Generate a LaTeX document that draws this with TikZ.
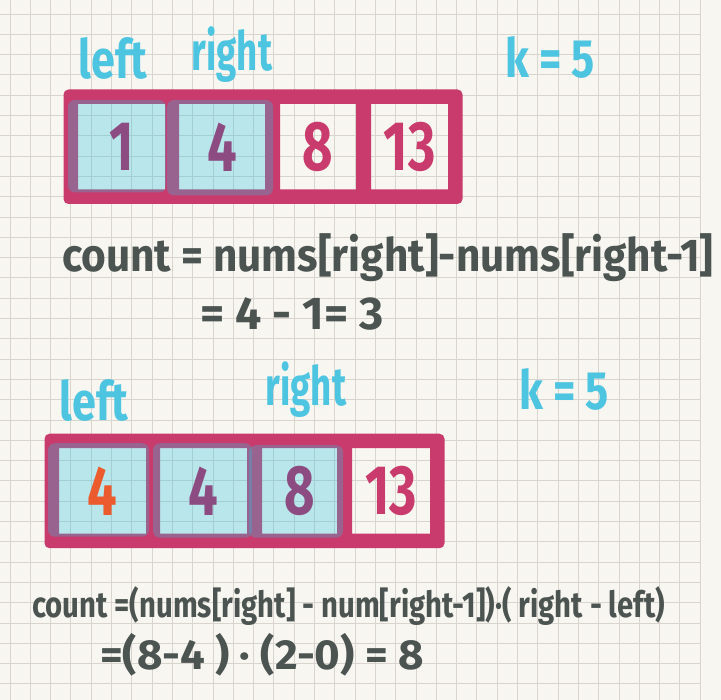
\documentclass[tikz,border=0pt]{standalone}
\usepackage{fontspec}
\setmainfont{Fira Sans}
\usepackage{graphicx}
\usetikzlibrary{positioning,fit,calc}

\definecolor{paper}{HTML}{F8F6F1}
\definecolor{gridgray}{HTML}{D9D5CE}
\definecolor{framered}{HTML}{C93B6C}
\definecolor{hilite}{HTML}{28C2E0}
\definecolor{tagcyan}{HTML}{4DC5E0}
\definecolor{inkgray}{HTML}{4B5451}
\definecolor{numpurple}{HTML}{8C4C82}
\definecolor{numorange}{HTML}{EB5B2D}

\newcommand{\hand}[1]{\scalebox{0.75}[1]{#1}}

\begin{document}
\begin{tikzpicture}[
  x=1pt, y=-1pt,
  cell/.style={inner sep=0pt, outer sep=0pt, minimum height=85.5pt},
  digit/.style={inner sep=0pt, font=\fontsize{70}{70}\selectfont\bfseries},
  tag/.style={inner sep=0pt, anchor=base, text=tagcyan, xscale=0.8,
              font=\fontsize{54}{54}\selectfont\bfseries},
  eqn/.style={inner sep=0pt, anchor=base west, text=inkgray, xscale=0.92,
              font=\fontsize{46}{46}\selectfont\bfseries},
  framefill/.style={fill=framered, even odd rule},
  hilitebox/.style={fill=hilite, fill opacity=0.3, rounded corners=7pt}
]
% paper
\useasboundingbox (0,0) rectangle (721,700);
\fill[paper] (0,0) rectangle (721,700);
\foreach \i in {0,...,34}
  \draw[gridgray, line width=0.9pt] ({10+20.3*\i},0) -- ({10+20.3*\i},700);
\foreach \j in {0,...,33}
  \draw[gridgray, line width=0.9pt] (0,{14+20.3*\j}) -- (700,{14+20.3*\j});

% first window
\node[cell, minimum width=87pt] (a1) at (121.5,146.75) {};
\node[cell, minimum width=86pt, right=14pt of a1] (a2) {};
\node[cell, minimum width=76pt, right=15pt of a2] (a3) {};
\node[cell, minimum width=77pt, right=15pt of a3] (a4) {};
\node[fit=(a1)(a4), inner sep=14.5pt, outer sep=0pt] (row1) {};
\fill[framefill] [rounded corners=5pt] (row1.north west) rectangle (row1.south east)
  [sharp corners] \foreach \c in {a1,a2,a3,a4} {(\c.north west) rectangle (\c.south east)};
\fill[hilitebox] ($(a1.north west)+(-10,-4)$) rectangle ($(a1.south east)+(1,3)$);
\fill[hilitebox] ($(a2.north west)+(-12,-4)$) rectangle ($(a2.south east)+(8,6)$);
\node[digit, text=numpurple] (n1) at (a1) {\hand{1}};
\node[digit, text=numpurple] (n2) at (a2) {\hand{4}};
\node[digit, text=framered]  (n3) at (a3) {\hand{8}};
\node[digit, text=framered]  (n4) at (a4) {\hand{13}};

\node[tag] (left1)  at (113,79) {left};
\node[tag, xscale=0.85] (right1) at (232,71) {right};
\node[tag] (k1)     at (550,78) {k = 5};

\node[eqn] (eq1) at (62,272) {count = nums[right]-nums[right-1]};
\node[eqn, xscale=1.1] (eq2) at (200,330) {= 4 - 1= 3};

% second window
\node[cell, minimum width=87pt] (b1) at (102.5,491) {};
\node[cell, minimum width=87pt, right=14pt of b1] (b2) {};
\node[cell, minimum width=75pt, right=15pt of b2] (b3) {};
\node[cell, minimum width=78pt, right=15pt of b3] (b4) {};
\node[fit=(b1)(b4), inner sep=14.5pt, outer sep=0pt] (row2) {};
\fill[framefill] [rounded corners=5pt] (row2.north west) rectangle (row2.south east)
  [sharp corners] \foreach \c in {b1,b2,b3,b4} {(\c.north west) rectangle (\c.south east)};
\fill[hilitebox] ($(b1.north west)+(-11,-5)$) rectangle ($(b1.south east)+(3,3)$);
\fill[hilitebox] ($(b2.north west)+(-7,-5)$) rectangle ($(b2.south east)+(5,4)$);
\fill[hilitebox] ($(b3.north west)+(-13,-3)$) rectangle ($(b3.south east)+(6,4)$);
\node[digit, text=numorange] (m1) at (b1) {\hand{4}};
\node[digit, text=numpurple] (m2) at (b2) {\hand{4}};
\node[digit, text=numpurple] (m3) at (b3) {\hand{8}};
\node[digit, text=framered]  (m4) at (b4) {\hand{13}};

\node[tag] (left2)  at (94,421) {left};
\node[tag, xscale=0.85] (right2) at (306,406) {right};
\node[tag] (k2)     at (564,410) {k = 5};

\node[eqn, xscale=0.885, font=\fontsize{36}{36}\selectfont\bfseries] (eq3) at (32,618)
  {count =(nums[right] - num[right-1])·( right - left)};
\node[eqn, xscale=1.135, font=\fontsize{42}{42}\selectfont\bfseries] (eq4) at (100,670)
  {=(8-4 ) · (2-0)  = 8};
\end{tikzpicture}
\end{document}
